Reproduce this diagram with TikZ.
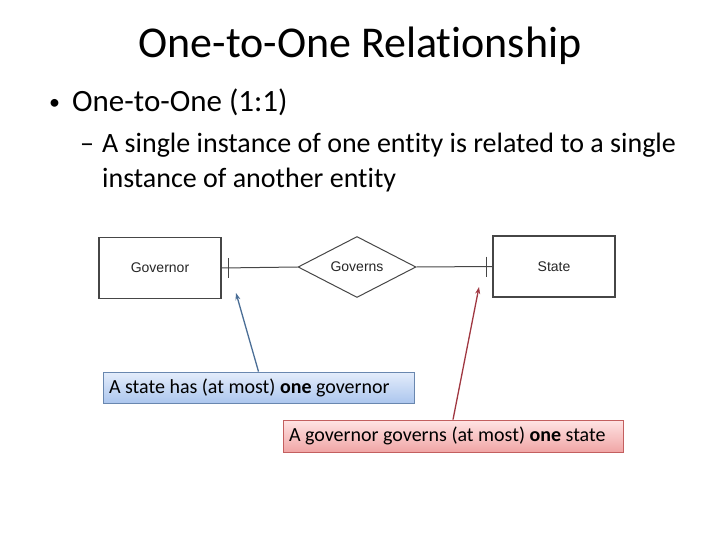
\documentclass[tikz,border=0pt]{standalone}
\usepackage{fontspec}
\setmainfont{Carlito}[Ligatures={NoCommon}]
\newfontfamily\erfont{Liberation Sans}
\usetikzlibrary{shapes.geometric, arrows.meta, positioning, calc}
\definecolor{erline}{RGB}{70,70,70}
\definecolor{bluetop}{RGB}{228,237,251}
\definecolor{bluebot}{RGB}{172,198,238}
\definecolor{blueedge}{RGB}{105,135,175}
\definecolor{bluearrow}{RGB}{75,110,150}
\definecolor{redtop}{RGB}{255,228,228}
\definecolor{redbot}{RGB}{240,165,165}
\definecolor{rededge}{RGB}{195,95,95}
\definecolor{redarrow}{RGB}{160,55,65}
\tikzset{
  >={Stealth[length=2.4mm]},
  erwire/.style={draw=erline, line width=1pt},
  entity/.style={rectangle, draw=erline, line width=1.2pt, minimum width=122pt,
    minimum height=61pt, inner sep=0pt, font=\erfont\fontsize{14}{16}\selectfont,
    text=black!85},
  relship/.style={% relationship, a diamond
    diamond, draw=erline, line width=1pt, aspect=2, minimum width=118pt,
    minimum height=61pt, inner sep=0pt, font=\erfont\fontsize{14}{16}\selectfont,
    text=black!85},
  note/.style={rectangle, line width=0.8pt, inner xsep=6pt, inner ysep=0pt,
    align=flush left, font=\fontsize{20}{24}\selectfont, text=black},
  noteblue/.style={note, draw=blueedge, top color=bluetop, bottom color=bluebot,
    text width=299pt, minimum height=31pt},
  notered/.style={note, draw=rededge, top color=redtop, bottom color=redbot,
    text width=328pt, minimum height=32pt},
  pointer/.style={line width=1.3pt, -{Stealth[length=7pt,width=5pt]}},
}

\begin{document}
\begin{tikzpicture}[x=1pt, y=-1pt]
  \useasboundingbox (0,0) rectangle (720,540);

  % ----- slide text ---------------------------------------------------------
  \node[anchor=base, inner sep=0pt, font=\fontsize{44}{53}\selectfont] (title)
    at (360,58) {One-to-One Relationship};
  \node[anchor=base west, inner sep=0pt, font=\fontsize{22}{26}\selectfont] (dot)
    at (49,110) {•};
  \node[anchor=base west, inner sep=0pt, font=\fontsize{31}{37}\selectfont] (lvla)
    at (72,112) {One-to-One (1:1)};
  \node[anchor=base west, inner sep=0pt, font=\fontsize{28}{34}\selectfont] (dash)
    at (80,153) {–};
  \node[anchor=base west, inner sep=0pt, font=\fontsize{28}{34}\selectfont] (lvlb)
    at (102,153) {A single instance of one entity is related to a single};
  \node[anchor=base west, inner sep=0pt, font=\fontsize{28}{34}\selectfont] (lvlc)
    at (102,188) {instance of another entity};

  % ----- ER diagram ---------------------------------------------------------
  \node[entity]  (gov)  at (160,268)   {Governor};
  \node[relship] (govs) at (357,267)   {Governs};
  \node[entity]  (st)   at (554,266.5) {State};

  \draw[erwire] (gov.east) -- (govs.west);
  \draw[erwire] (govs.east) -- (st.west);
  \draw[erwire] (gov.east) ++(7,-10) -- ++(0,20);   % one, Governor side
  \draw[erwire] (st.west) ++(-6,-10) -- ++(0,20);   % one, State side

  % ----- callouts -----------------------------------------------------------
  \node[noteblue] (nb) at (258.5,387.5) {A state has (at most) \textbf{one} governor};
  \node[notered]  (nr) at (453,436)     {A governor governs (at most) \textbf{one} state};

  \coordinate (govtip) at (236,293);
  \coordinate (sttip)  at (479,287);
  \draw[pointer, bluearrow] (nb.north) -- (govtip);
  \draw[pointer, redarrow]  (nr.north) -- (sttip);

\end{tikzpicture}
\end{document}
